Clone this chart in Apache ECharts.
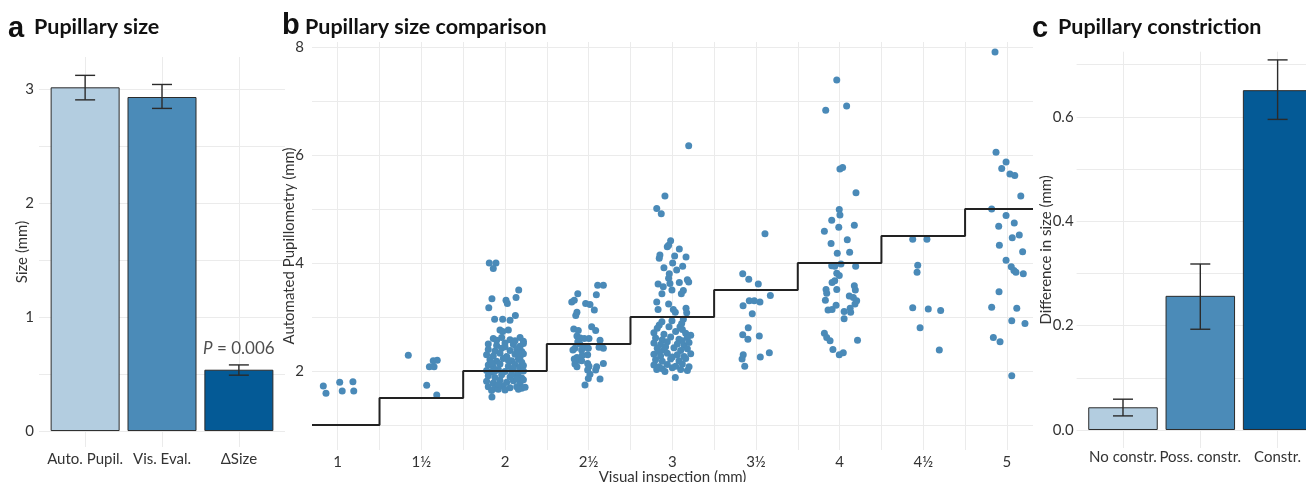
<!DOCTYPE html>
<html><head><meta charset="utf-8">
<script src="https://cdn.jsdelivr.net/npm/echarts@6/dist/echarts.min.js"></script>
<style>html,body{margin:0;padding:0;background:#fff}#c{width:1306px;height:482px}</style>
</head><body><div id="c"></div>
<script>
// ---------- Panel a: Pupillary size ----------
const aCategories = ['Auto. Pupil.', 'Vis. Eval.', '\u0394Size'];
const aMeans = [3.015, 2.93, 0.538];
const aLow = [2.905, 2.83, 0.49];
const aHigh = [3.12, 3.04, 0.58];
const aAnnotation = ['P', ' = 0.006'];

// ---------- Panel c: Pupillary constriction ----------
const cCategories = ['No constr.', 'Poss. constr.', 'Constr.'];
const cMeans = [0.0435, 0.257, 0.651];
const cLow = [0.027, 0.193, 0.595];
const cHigh = [0.059, 0.318, 0.709];

// ---------- Panel b: Pupillary size comparison ----------
const bTickValues = [1, 1.5, 2, 2.5, 3, 3.5, 4, 4.5, 5];
const bTickLabels = ['1', '1\u00BD', '2', '2\u00BD', '3', '3\u00BD', '4', '4\u00BD', '5'];
const bYTickLabels = ['2', '4', '6', '8'];
const bStepValues = [1, 1.5, 2, 2.5, 3, 3.5, 4, 4.5, 5];

// points: [visual inspection (jittered, mm), automated pupillometry (mm)]
const pts1 = [[0.914,1.72],[0.930,1.59],[1.012,1.79],[1.027,1.63],[1.091,1.80],[1.096,1.63]];
const pts15 = [[1.422,2.29],[1.548,2.08],[1.576,2.08],[1.571,2.19],[1.595,2.20],[1.532,1.735],[1.592,1.556]];
const pts2 = [[1.906,4.00],[1.946,4.00],[1.930,3.90],[2.082,3.50],[1.922,3.34],[2.006,3.31],[2.014,3.25],[2.066,3.36],[1.903,3.17],[1.938,2.96],[1.986,2.96],[2.030,2.94],[2.062,3.03],[1.970,2.76],[1.986,2.73],[2.020,2.76],[1.922,1.52],
 [1.93,2.60],[2.03,2.58],[2.09,2.62],[2.11,2.55],
 [1.90,2.50],[1.95,2.47],[2.00,2.52],[2.05,2.49],[2.09,2.46],[2.11,2.51],
 [1.90,2.40],[1.94,2.37],[1.98,2.42],[2.03,2.38],[2.07,2.41],[2.10,2.36],
 [1.89,2.30],[1.93,2.28],[1.97,2.33],[2.01,2.27],[2.06,2.31],[2.09,2.26],[2.11,2.32],
 [1.91,2.21],[1.95,2.18],[1.99,2.23],[2.04,2.19],[2.08,2.22],[2.10,2.16],
 [1.90,2.11],[1.93,2.08],[1.97,2.13],[2.02,2.09],[2.06,2.12],[2.09,2.07],[2.11,2.10],
 [1.89,2.01],[1.92,1.98],[1.96,2.03],[2.00,1.99],[2.04,2.02],[2.08,1.97],[2.11,2.00],
 [1.90,1.91],[1.94,1.88],[1.98,1.93],[2.03,1.89],[2.07,1.92],[2.10,1.87],
 [1.89,1.81],[1.93,1.78],[1.97,1.83],[2.01,1.79],[2.05,1.82],[2.09,1.78],[2.11,1.84],
 [1.90,1.71],[1.94,1.68],[1.99,1.72],[2.03,1.69],[2.07,1.71],[2.10,1.68],[2.12,1.70],
 [1.92,1.64],[2.00,1.65],[2.08,1.66],[1.96,1.66],
 [1.95,2.57],[2.06,2.56],[1.92,2.15],[2.05,2.05],[1.96,1.75],[2.04,1.94],[2.00,2.45],[2.08,2.34],[1.98,2.62],[2.02,2.20],[1.94,2.00],[2.07,1.85]];
const pts25 = [[2.554,3.59],[2.588,3.59],[2.435,3.43],[2.546,3.41],[2.399,3.28],[2.414,3.31],[2.482,3.25],[2.508,3.23],[2.534,3.13],[2.430,3.09],[2.423,3.03],[2.411,2.78],[2.438,2.75],[2.518,2.82],[2.542,2.75],[2.430,2.65],[2.450,2.61],[2.474,2.60],[2.502,2.60],[2.568,2.57],[2.435,2.54],[2.447,2.50],[2.418,2.42],[2.406,2.39],[2.458,2.39],[2.478,2.44],[2.498,2.42],[2.562,2.44],[2.588,2.42],[2.430,2.25],[2.414,2.22],[2.462,2.29],[2.494,2.30],[2.438,2.20],[2.458,2.19],[2.418,2.13],[2.430,2.08],[2.494,2.14],[2.502,2.09],[2.588,2.14],[2.548,2.08],[2.542,2.02],[2.494,2.02],[2.508,1.94],[2.498,1.86],[2.568,1.85],[2.478,1.74]];
const pts3 = [[3.098,6.17],[2.956,5.24],[2.907,5.01],[2.934,4.91],[2.990,4.41],[2.970,4.30],[2.978,4.33],[3.042,4.26],[2.926,4.15],[2.922,4.09],[3.014,4.13],[3.082,4.11],[3.002,4.00],[3.062,3.94],[2.950,3.91],[3.026,3.87],[2.982,3.80],[2.978,3.72],[3.090,3.69],[3.098,3.65],[3.042,3.64],[2.915,3.61],[2.946,3.56],[2.986,3.62],[2.998,3.50],[3.066,3.49],[3.054,3.43],[2.938,3.43],[2.907,3.28],[2.978,3.24],[2.915,3.14],[3.006,3.14],[3.018,3.09],[3.082,3.16],[3.086,3.08],[2.938,2.91],[2.922,2.85],[2.998,2.93],[3.066,2.96],[3.056,2.88],[3.046,2.82],[2.907,2.03],[2.956,1.99],[3.018,1.88],[3.090,2.01],
 [2.91,2.79],[2.98,2.82],[3.06,2.77],
 [2.89,2.71],[2.95,2.68],[3.02,2.73],[3.08,2.70],[3.11,2.66],
 [2.90,2.61],[2.94,2.58],[2.99,2.63],[3.04,2.59],[3.09,2.62],
 [2.89,2.52],[2.93,2.49],[2.97,2.54],[3.03,2.50],[3.07,2.47],[3.10,2.53],
 [2.91,2.42],[2.95,2.39],[3.01,2.43],[3.05,2.38],[3.09,2.41],
 [2.89,2.31],[2.93,2.28],[2.97,2.33],[3.03,2.30],[3.07,2.27],[3.11,2.32],
 [2.90,2.21],[2.94,2.18],[2.99,2.22],[3.04,2.19],[3.08,2.23],
 [2.89,2.11],[2.92,2.08],[2.97,2.12],[3.02,2.09],[3.06,2.13],[3.10,2.08],
 [2.94,2.04],[3.00,2.06],[3.05,2.03],
 [2.96,2.45],[3.06,2.56],[2.92,2.36],[3.00,2.26]];
const pts35 = [[3.554,4.54],[3.421,3.80],[3.457,3.70],[3.514,3.61],[3.586,3.40],[3.460,3.30],[3.490,3.30],[3.524,3.28],[3.423,3.21],[3.478,3.06],[3.454,2.80],[3.421,2.67],[3.452,2.59],[3.520,2.65],[3.424,2.30],[3.417,2.22],[3.433,2.09],[3.526,2.26],[3.580,2.34]];
const pts4 = [[3.983,7.39],[3.917,6.83],[4.042,6.91],[4.002,5.74],[4.018,5.77],[4.098,5.30],[3.998,4.99],[4.002,4.89],[3.953,4.79],[4.088,4.70],[3.995,4.66],[3.909,4.59],[4.046,4.43],[3.949,4.36],[4.060,4.20],[3.986,4.18],[3.953,3.95],[3.971,3.94],[4.008,3.98],[4.096,3.94],[3.983,3.81],[3.998,3.77],[3.955,3.64],[3.971,3.67],[3.919,3.51],[3.923,3.44],[3.915,3.31],[3.983,3.51],[4.088,3.58],[4.094,3.50],[4.058,3.39],[4.082,3.36],[4.102,3.30],[4.092,3.24],[3.931,3.13],[3.955,3.14],[3.979,3.22],[4.027,3.10],[4.027,2.97],[4.063,3.16],[4.066,3.09],[3.909,2.70],[3.923,2.62],[3.943,2.56],[4.107,2.57],[3.960,2.40],[3.998,2.30],[4.022,2.34]];
const pts45 = [[4.437,4.44],[4.522,4.44],[4.467,3.96],[4.463,3.83],[4.437,3.17],[4.530,3.15],[4.604,3.12],[4.481,2.80],[4.596,2.39]];
const pts5 = [[4.929,7.91],[4.935,6.05],[4.995,5.87],[4.969,5.75],[5.018,5.65],[5.047,5.62],[5.083,5.24],[4.909,5.00],[4.995,4.88],[5.044,4.74],[4.951,4.68],[5.074,4.52],[5.032,4.47],[5.094,4.21],[4.955,4.33],[4.995,4.05],[5.026,3.93],[5.042,3.86],[5.054,3.83],[5.098,3.80],[4.953,3.47],[4.909,3.18],[5.059,3.16],[5.029,2.93],[5.108,2.88],[4.919,2.62],[4.959,2.54],[5.029,1.91]];

// ---------- styling ----------
const barColors = ['#b3cde0', '#4b8bb8', '#045a96'];
const pointColor = '#4a8ab8';
const gridColor = '#ebebeb';
const textColor = '#333333';
const tickFont = 'Lato, "Open Sans", sans-serif';
const titleFont = 'Lato, "Open Sans", sans-serif';
const letterFont = 'bold 29px "Liberation Sans", Arial, sans-serif';
const titleStyle = 'bold 21.5px ' + titleFont;

// panel b uses quarter-mm units on the x axis so split lines fall every 0.25 mm
const Q = 4;
const bXMin = 0.8464 * Q, bXMax = 5.156 * Q;

const allPts = [].concat(pts1, pts15, pts2, pts25, pts3, pts35, pts4, pts45, pts5).map(p => [p[0] * Q, p[1]]);
const stepData = [[bXMin, bStepValues[0]]].concat(bStepValues.map(v => [v * Q, v])).concat([[bXMax, bStepValues[bStepValues.length - 1]]]);

function errRender(params, api) {
  const x = api.value(0), lo = api.value(1), hi = api.value(2);
  const pT = api.coord([x, hi]), pB = api.coord([x, lo]);
  const hw = 10;
  const style = { stroke: '#2b2b2b', lineWidth: 1.4, fill: null };
  return { type: 'group', children: [
    { type: 'line', shape: { x1: pT[0], y1: pT[1], x2: pB[0], y2: pB[1] }, style },
    { type: 'line', shape: { x1: pT[0] - hw, y1: pT[1], x2: pT[0] + hw, y2: pT[1] }, style },
    { type: 'line', shape: { x1: pB[0] - hw, y1: pB[1], x2: pB[0] + hw, y2: pB[1] }, style }
  ]};
}

function catXAxis(gridIndex, cats, margin) {
  return {
    type: 'value', gridIndex, min: 0.4, max: 3.6, minInterval: 1, maxInterval: 1,
    axisLine: { show: false }, axisTick: { show: false },
    axisLabel: { color: textColor, fontFamily: tickFont, fontSize: 15, margin, hideOverlap: false, overflow: 'none',
      showMinLabel: false, showMaxLabel: false,
      formatter: v => { const i = Math.round(v) - 1; return (Math.abs(v - Math.round(v)) < 1e-6 && cats[i]) ? cats[i] : ''; } },
    splitLine: { show: true, showMinLine: false, showMaxLine: false, lineStyle: { color: gridColor, width: 1 } }
  };
}

const nameStyle = { color: textColor, fontFamily: tickFont, fontSize: 15 };

const chart = echarts.init(document.getElementById('c'), null, { renderer: 'canvas' });
const option = {
  backgroundColor: '#ffffff',
  animation: false,
  grid: [
    { left: 39, top: 57, width: 246, height: 390, outerBoundsMode: 'none', containLabel: false },
    { left: 312, top: 42, width: 721, height: 408, outerBoundsMode: 'none', containLabel: false },
    { left: 1076.6, top: 51.7, width: 247.4, height: 396.3, outerBoundsMode: 'none', containLabel: false }
  ],
  graphic: [
    { type: 'text', left: 8, top: 14, style: { text: 'a', font: letterFont, fill: '#111' } },
    { type: 'text', left: 34, top: 16, style: { text: 'Pupillary size', font: titleStyle, fill: '#111' } },
    { type: 'text', left: 282, top: 11, style: { text: 'b', font: letterFont, fill: '#111' } },
    { type: 'text', left: 305, top: 16, style: { text: 'Pupillary size comparison', font: titleStyle, fill: '#111' } },
    { type: 'text', left: 1032, top: 14, style: { text: 'c', font: letterFont, fill: '#111' } },
    { type: 'text', left: 1058, top: 16, style: { text: 'Pupillary constriction', font: titleStyle, fill: '#111' } }
  ],
  xAxis: [
    catXAxis(0, aCategories, 5),
    {
      type: 'value', gridIndex: 1, min: bXMin, max: bXMax, minInterval: 1, maxInterval: 1,
      name: 'Visual inspection (mm)', nameLocation: 'middle', nameGap: 20, nameMoveOverlap: false, nameTextStyle: nameStyle,
      axisLine: { show: false }, axisTick: { show: false },
      axisLabel: { color: textColor, fontFamily: tickFont, fontSize: 15, margin: 5,
        showMinLabel: false, showMaxLabel: false,
        formatter: v => { const i = bTickValues.findIndex(t => Math.abs(t * Q - v) < 1e-6); return i >= 0 ? bTickLabels[i] : ''; } },
      splitLine: { show: true, showMinLine: false, showMaxLine: false, lineStyle: { color: gridColor, width: 1 } }
    },
    catXAxis(2, cCategories, 2)
  ],
  yAxis: [
    {
      type: 'value', gridIndex: 0, min: -0.140, max: 3.281, minInterval: 0.5, maxInterval: 0.5,
      name: 'Size (mm)', nameLocation: 'middle', nameGap: 9.5, nameMoveOverlap: false, nameTextStyle: nameStyle,
      axisLine: { show: false }, axisTick: { show: false },
      axisLabel: { color: textColor, fontFamily: tickFont, fontSize: 15, margin: 5, showMinLabel: false, showMaxLabel: false,
        formatter: v => (Math.abs(v - Math.round(v)) < 1e-6 ? String(Math.round(v)) : '') },
      splitLine: { show: true, showMinLine: false, showMaxLine: false, lineStyle: { color: gridColor, width: 1 } }
    },
    {
      type: 'value', gridIndex: 1, min: 0.537, max: 8.093, minInterval: 1, maxInterval: 1,
      name: 'Automated Pupillometry (mm)', nameLocation: 'middle', nameGap: 15.5, nameMoveOverlap: false, nameTextStyle: nameStyle,
      axisLine: { show: false }, axisTick: { show: false },
      axisLabel: { color: textColor, fontFamily: tickFont, fontSize: 15, margin: 8, showMinLabel: false, showMaxLabel: false,
        formatter: v => { const s = String(Math.round(v)); return (Math.abs(v - Math.round(v)) < 1e-6 && bYTickLabels.includes(s)) ? s : ''; } },
      splitLine: { show: true, showMinLine: false, showMaxLine: false, lineStyle: { color: gridColor, width: 1 } }
    },
    {
      type: 'value', gridIndex: 2, min: -0.0345, max: 0.7247, minInterval: 0.1, maxInterval: 0.1,
      name: 'Difference in size (mm)', nameLocation: 'middle', nameGap: 23, nameMoveOverlap: false, nameTextStyle: nameStyle,
      axisLine: { show: false }, axisTick: { show: false },
      axisLabel: { color: textColor, fontFamily: tickFont, fontSize: 15, margin: 3, showMinLabel: false, showMaxLabel: false,
        formatter: v => { const k = Math.round(v * 10); return (Math.abs(v * 10 - k) < 1e-6 && k % 2 === 0) ? v.toFixed(1) : ''; } },
      splitLine: { show: true, showMinLine: false, showMaxLine: false, lineStyle: { color: gridColor, width: 1 } }
    }
  ],
  series: [
    {
      type: 'bar', xAxisIndex: 0, yAxisIndex: 0, barWidth: 69,
      data: aMeans.map((v, i) => ({ value: [i + 1, v], itemStyle: { color: barColors[i], borderColor: '#2b2b2b', borderWidth: 1 } }))
    },
    {
      type: 'custom', xAxisIndex: 0, yAxisIndex: 0, renderItem: errRender, z: 5,
      data: aMeans.map((v, i) => [i + 1, aLow[i], aHigh[i]])
    },
    {
      type: 'scatter', xAxisIndex: 0, yAxisIndex: 0, symbolSize: 0, silent: true,
      data: [[3, aHigh[2]]],
      label: { show: true, position: 'top', distance: 8, color: '#222', fontFamily: tickFont, fontSize: 17,
        formatter: () => '{i|' + aAnnotation[0] + '}' + aAnnotation[1],
        rich: { i: { fontStyle: 'italic', fontFamily: tickFont, fontSize: 17, color: '#222' } } }
    },
    {
      type: 'scatter', xAxisIndex: 1, yAxisIndex: 1, symbolSize: 7,
      itemStyle: { color: pointColor, opacity: 1 }, data: allPts, z: 2
    },
    {
      type: 'line', xAxisIndex: 1, yAxisIndex: 1, step: 'middle', symbol: 'none', clip: false,
      lineStyle: { color: '#222', width: 2 }, data: stepData, z: 3
    },
    {
      type: 'bar', xAxisIndex: 2, yAxisIndex: 2, barWidth: 69.5,
      data: cMeans.map((v, i) => ({ value: [i + 1, v], itemStyle: { color: barColors[i], borderColor: '#2b2b2b', borderWidth: 1 } }))
    },
    {
      type: 'custom', xAxisIndex: 2, yAxisIndex: 2, renderItem: errRender, z: 5,
      data: cMeans.map((v, i) => [i + 1, cLow[i], cHigh[i]])
    }
  ]
};
chart.setOption(option);
</script></body></html>
